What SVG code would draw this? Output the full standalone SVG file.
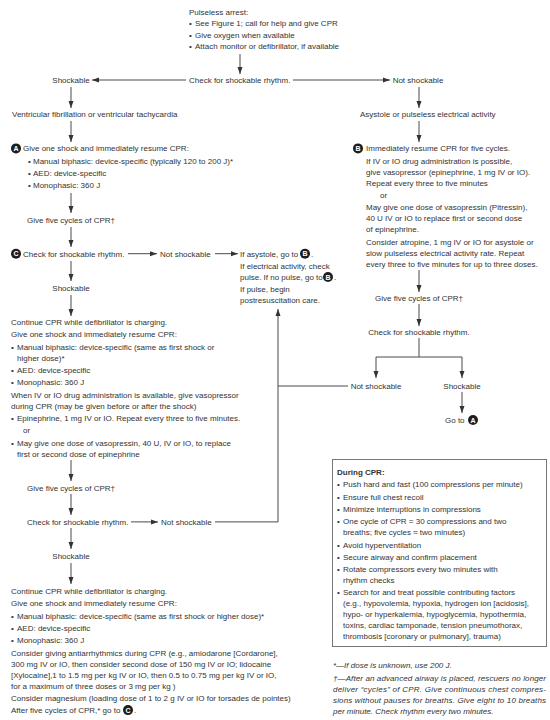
<svg xmlns="http://www.w3.org/2000/svg" width="550" height="720" viewBox="0 0 550 720">
<style>
text{font-family:"Liberation Sans",Arial,sans-serif;font-size:8px;fill:#333}
.m{text-anchor:middle}
.b{font-weight:bold}
.i{font-style:italic}
.cl{fill:#fff;font-weight:bold;font-size:7px;text-anchor:middle}
.dot{fill:#1e1e1e}
.ln{stroke:#4a4a4a;stroke-width:1;fill:none}
.ar{stroke:#4a4a4a;stroke-width:1;fill:none;marker-end:url(#ah)}
.box{fill:#fff;stroke:#777;stroke-width:1}
</style>
<defs>
<marker id="ah" markerUnits="userSpaceOnUse" markerWidth="7" markerHeight="6" refX="7" refY="3" orient="auto">
<path d="M0,0.5 L7,3 L0,5.5 z" fill="#333"/>
</marker>
</defs>
<rect width="550" height="720" fill="#fff"/>

<g id="connectors">
<line class="ar" x1="240" y1="54" x2="240" y2="74"/>
<line class="ar" x1="186" y1="80" x2="92" y2="80"/>
<line class="ar" x1="293" y1="80" x2="390" y2="80"/>
<line class="ar" x1="71" y1="87" x2="71" y2="108"/>
<line class="ar" x1="419" y1="87" x2="419" y2="108"/>
<line class="ar" x1="71" y1="121" x2="71" y2="142"/>
<line class="ar" x1="419" y1="121" x2="419" y2="142"/>
<line class="ar" x1="71" y1="193" x2="71" y2="213"/>
<line class="ar" x1="71" y1="227" x2="71" y2="247"/>
<line class="ar" x1="128" y1="253.7" x2="157" y2="253.7"/>
<line class="ar" x1="215" y1="253.7" x2="238" y2="253.7"/>
<line class="ar" x1="71" y1="261" x2="71" y2="281"/>
<line class="ar" x1="71" y1="295" x2="71" y2="316"/>
<line class="ar" x1="71" y1="460" x2="71" y2="481"/>
<line class="ar" x1="71" y1="494" x2="71" y2="515"/>
<line class="ar" x1="131" y1="521.9" x2="158" y2="521.9"/>
<line class="ar" x1="71" y1="528" x2="71" y2="549"/>
<line class="ar" x1="71" y1="563" x2="71" y2="584"/>
<line class="ar" x1="419" y1="270" x2="419" y2="292"/>
<line class="ar" x1="419" y1="304" x2="419" y2="326"/>
<polyline class="ln" points="419,338 419,357"/>
<polyline class="ln" points="376,357 462,357"/>
<line class="ar" x1="376" y1="357" x2="376" y2="378"/>
<line class="ar" x1="462" y1="357" x2="462" y2="378"/>
<line class="ar" x1="462" y1="392" x2="462" y2="413"/>
<polyline class="ln" points="348,386 278,386"/>
<polyline class="ar" points="215,521.9 278,521.9 278,309"/>
</g>

<g id="start">
<text x="189" y="14.5">Pulseless arrest:</text>
<text x="189" y="26">•</text><text x="195" y="26">See Figure 1; call for help and give CPR</text>
<text x="189" y="37.5">•</text><text x="195" y="37.5">Give oxygen when available</text>
<text x="189" y="49">•</text><text x="195" y="49">Attach monitor or defibrillator, if available</text>
</g>
<g id="check1"><text x="189" y="83">Check for shockable rhythm.</text></g>
<g id="shockable1"><text class="m" x="71" y="83">Shockable</text></g>
<g id="notshockable1"><text class="m" x="418" y="83">Not shockable</text></g>
<g id="vfvt"><text x="12" y="117.2">Ventricular fibrillation or ventricular tachycardia</text></g>
<g id="asystole"><text x="360" y="117.2">Asystole or pulseless electrical activity</text></g>

<g id="nodeA">
<circle class="dot" cx="16" cy="148.4" r="5"/><text class="cl" x="16" y="150.9">A</text>
<text x="23" y="151.4">Give one shock and immediately resume CPR:</text>
<text x="28" y="163.7">•</text><text x="33" y="163.7">Manual biphasic: device-specific (typically 120 to 200 J)*</text>
<text x="28" y="176">•</text><text x="33" y="176">AED: device-specific</text>
<text x="28" y="188.3">•</text><text x="33" y="188.3">Monophasic: 360 J</text>
</g>
<g id="cpr1"><text class="m" x="71" y="222.5">Give five cycles of CPR†</text></g>
<g id="nodeC">
<circle class="dot" cx="16" cy="253.7" r="5"/><text class="cl" x="16" y="256.2">C</text>
<text x="23" y="256.7">Check for shockable rhythm.</text>
</g>
<g id="notshockable2"><text x="160" y="256.7">Not shockable</text></g>
<g id="ifasystole">
<text x="240" y="256.7">If asystole, go to</text>
<circle class="dot" cx="305" cy="253.7" r="5"/><text class="cl" x="305" y="256.2">B</text>
<text x="311" y="256.7">.</text>
<text x="240" y="269">If electrical activity, check</text>
<text x="240" y="280">pulse. If no pulse, go to</text>
<circle class="dot" cx="328" cy="277" r="5"/><text class="cl" x="328" y="279.5">B</text>
<text x="334" y="280">.</text>
<text x="240" y="292.3">If pulse, begin</text>
<text x="240" y="303.3">postresuscitation care.</text>
</g>
<g id="shockable2"><text class="m" x="71" y="290.9">Shockable</text></g>
<g id="shock2">
<text x="11" y="325.1">Continue CPR while defibrillator is charging.</text>
<text x="11" y="337.4">Give one shock and immediately resume CPR:</text>
<text x="11" y="349.7">•</text><text x="17" y="349.7">Manual biphasic: device-specific (same as first shock or</text>
<text x="17" y="360.7">higher dose)*</text>
<text x="11" y="373">•</text><text x="17" y="373">AED: device-specific</text>
<text x="11" y="385.3">•</text><text x="17" y="385.3">Monophasic: 360 J</text>
<text x="11" y="397.6">When IV or IO drug administration is available, give vasopressor</text>
<text x="11" y="408.6">during CPR (may be given before or after the shock)</text>
<text x="11" y="420.9">•</text><text x="17" y="420.9">Epinephrine, 1 mg IV or IO. Repeat every three to five minutes.</text>
<text x="23" y="433.2">or</text>
<text x="11" y="445.5">•</text><text x="17" y="445.5">May give one dose of vasopressin, 40 U, IV or IO, to replace</text>
<text x="17" y="456.5">first or second dose of epinephrine</text>
</g>
<g id="cpr2"><text class="m" x="71" y="490.7">Give five cycles of CPR†</text></g>
<g id="check3"><text x="27" y="524.9">Check for shockable rhythm.</text></g>
<g id="notshockable3"><text x="161" y="524.9">Not shockable</text></g>
<g id="shockable3"><text class="m" x="71" y="559.1">Shockable</text></g>
<g id="shock3">
<text x="11" y="594">Continue CPR while defibrillator is charging.</text>
<text x="11" y="606.3">Give one shock and immediately resume CPR:</text>
<text x="11" y="618.6">•</text><text x="17" y="618.6">Manual biphasic: device-specific (same as first shock or higher dose)*</text>
<text x="11" y="630.9">•</text><text x="17" y="630.9">AED: device-specific</text>
<text x="11" y="643.2">•</text><text x="17" y="643.2">Monophasic: 360 J</text>
<text x="11" y="655.5">Consider giving antiarrhythmics during CPR (e.g., amiodarone [Cordarone],</text>
<text x="11" y="666.5">300 mg IV or IO, then consider second dose of 150 mg IV or IO; lidocaine</text>
<text x="11" y="677.5">[Xylocaine],1 to 1.5 mg per kg IV or IO, then 0.5 to 0.75 mg per kg IV or IO,</text>
<text x="11" y="688.5">for a maximum of three doses or 3 mg per kg )</text>
<text x="11" y="700.8">Consider magnesium (loading dose of 1 to 2 g IV or IO for torsades de pointes)</text>
<text x="11" y="713.1">After five cycles of CPR,* go to</text>
<circle class="dot" cx="128" cy="710.1" r="5"/><text class="cl" x="128" y="712.6">C</text>
<text x="134" y="713.1">.</text>
</g>

<g id="nodeB">
<circle class="dot" cx="358" cy="148.4" r="5"/><text class="cl" x="358" y="150.9">B</text>
<text x="366" y="151.4">Immediately resume CPR for five cycles.</text>
<text x="366" y="163.7">If IV or IO drug administration is possible,</text>
<text x="366" y="174.7">give vasopressor (epinephrine, 1 mg IV or IO).</text>
<text x="366" y="185.7">Repeat every three to five minutes</text>
<text x="380" y="198">or</text>
<text x="366" y="210.3">May give one dose of vasopressin (Pitressin),</text>
<text x="366" y="221.3">40 U IV or IO to replace first or second dose</text>
<text x="366" y="232.3">of epinephrine.</text>
<text x="366" y="244.6">Consider atropine, 1 mg IV or IO for asystole or</text>
<text x="366" y="255.6">slow pulseless electrical activity rate. Repeat</text>
<text x="366" y="266.6">every three to five minutes for up to three doses.</text>
</g>
<g id="cpr3"><text class="m" x="419" y="300.8">Give five cycles of CPR†</text></g>
<g id="check4"><text class="m" x="419" y="335">Check for shockable rhythm.</text></g>
<g id="notshockable4"><text class="m" x="376" y="389">Not shockable</text></g>
<g id="shockable4"><text class="m" x="462" y="389">Shockable</text></g>
<g id="gotoA">
<text x="445" y="423">Go to</text>
<circle class="dot" cx="473" cy="420" r="5"/><text class="cl" x="473" y="422.5">A</text>
</g>

<g id="duringCPR">
<rect class="box" x="332.5" y="459.5" width="214" height="187"/>
<text class="b" x="337" y="475">During CPR:</text>
<text x="337" y="487.3">•</text><text x="343" y="487.3">Push hard and fast (100 compressions per minute)</text>
<text x="337" y="499.6">•</text><text x="343" y="499.6">Ensure full chest recoil</text>
<text x="337" y="511.9">•</text><text x="343" y="511.9">Minimize interruptions in compressions</text>
<text x="337" y="524.2">•</text><text x="343" y="524.2">One cycle of CPR = 30 compressions and two</text>
<text x="343" y="535.2">breaths; five cycles ≈ two minutes)</text>
<text x="337" y="547.5">•</text><text x="343" y="547.5">Avoid hyperventilation</text>
<text x="337" y="559.8">•</text><text x="343" y="559.8">Secure airway and confirm placement</text>
<text x="337" y="572.1">•</text><text x="343" y="572.1">Rotate compressors every two minutes with</text>
<text x="343" y="583.1">rhythm checks</text>
<text x="337" y="595.4">•</text><text x="343" y="595.4">Search for and treat possible contributing factors</text>
<text x="343" y="606.4">(e.g., hypovolemia, hypoxia, hydrogen ion [acidosis],</text>
<text x="343" y="617.4">hypo- or hyperkalemia, hypoglycemia, hypothermia,</text>
<text x="343" y="628.4">toxins, cardiac tamponade, tension pneumothorax,</text>
<text x="343" y="639.4">thrombosis [coronary or pulmonary], trauma)</text>
</g>

<g id="footnotes">
<text class="i" x="333" y="668">*—If dose is unknown, use 200 J.</text>
<text class="i" x="333" y="681" textLength="213" lengthAdjust="spacing">†—After an advanced airway is placed, rescuers no longer</text>
<text class="i" x="333" y="692" textLength="213" lengthAdjust="spacing">deliver “cycles” of CPR. Give continuous chest compres-</text>
<text class="i" x="333" y="703" textLength="213" lengthAdjust="spacing">sions without pauses for breaths. Give eight to 10 breaths</text>
<text class="i" x="333" y="714">per minute. Check rhythm every two minutes.</text>
</g>
</svg>
